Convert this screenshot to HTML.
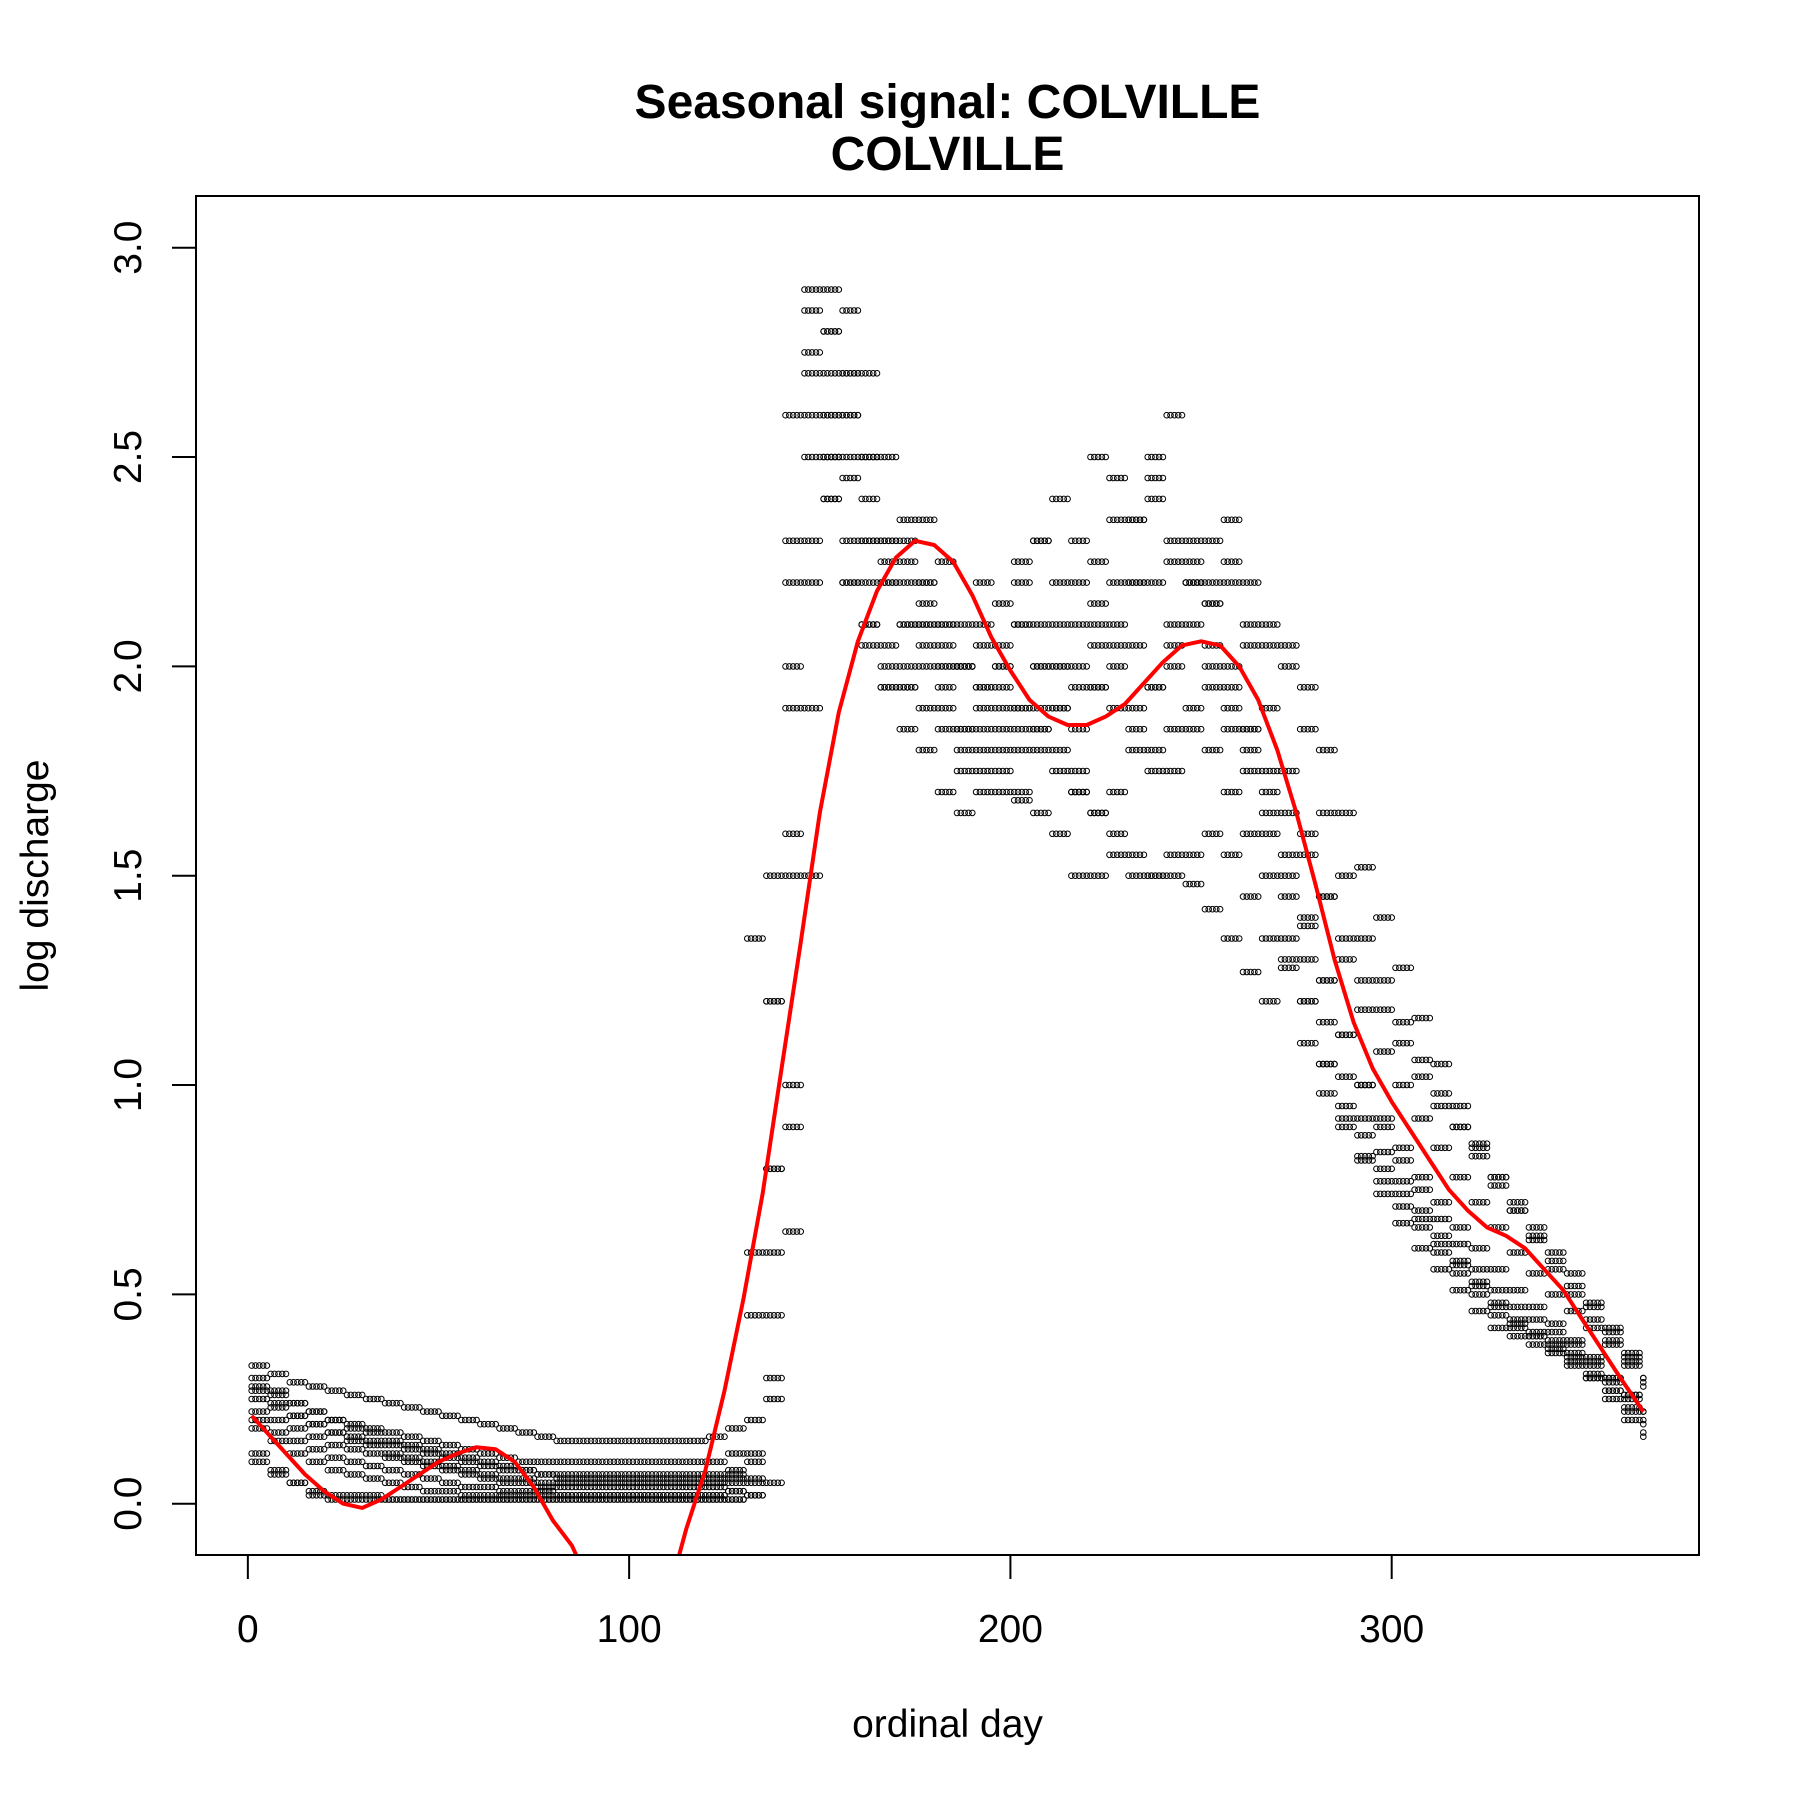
<!DOCTYPE html>
<html><head><meta charset="utf-8"><style>body{margin:0;background:#fff}svg{display:block}</style></head>
<body>
<svg id="chart" width="1800" height="1800" xmlns="http://www.w3.org/2000/svg" font-family="Liberation Sans, Arial, sans-serif">
<defs><clipPath id="plotclip"><rect x="196" y="196" width="1503" height="1359"/></clipPath></defs>
<rect x="0" y="0" width="1800" height="1800" fill="#fff"/>
<text x="947.5" y="118" font-size="48" font-weight="bold" text-anchor="middle">Seasonal signal: COLVILLE</text>
<text x="947.5" y="170" font-size="48" font-weight="bold" text-anchor="middle">COLVILLE</text>
<rect x="196" y="196" width="1503" height="1359" fill="none" stroke="#000" stroke-width="2"/>
<g id="points" clip-path="url(#plotclip)"></g>
<g id="fit" clip-path="url(#plotclip)"></g>
<g id="axes"></g>
<text x="947.5" y="1737" font-size="39" text-anchor="middle">ordinal day</text>
<text transform="translate(48,875.5) rotate(-90)" font-size="39" text-anchor="middle">log discharge</text>
</svg>
<script>
const xTicks = [0, 100, 200, 300];
const xTickLabels = ["0", "100", "200", "300"];
const yTicks = [0, 0.5, 1, 1.5, 2, 2.5, 3];
const yTickLabels = ["0.0", "0.5", "1.0", "1.5", "2.0", "2.5", "3.0"];
const dayStep = 5;
const seriesA = [0.33,0.31,0.29,0.28,0.27,0.26,0.25,0.24,0.23,0.22,0.21,0.20,0.19,0.18,0.17,0.16,0.15,0.15,0.15,0.15,0.15,0.15,0.15,0.15,0.16,0.18,0.45,1.2,2.6,2.9,2.8,2.6,2.5,2.3,2.2,2.1,2.0,2.1,2.2,2.0,2.1,2.3,2.4,2.2,2.1,2.0,2.2,2.4,2.3,2.2,2.0,1.9,1.85,1.75,1.65,1.55,1.45,1.35,1.25,1.18,1.1,1.02,0.95,0.9,0.85,0.78,0.72,0.66,0.6,0.55,0.48,0.42,0.36,0.3];
const seriesB = [0.27,0.24,0.21,0.19,0.17,0.15,0.14,0.12,0.11,0.10,0.09,0.08,0.07,0.06,0.06,0.05,0.05,0.05,0.05,0.05,0.05,0.05,0.05,0.05,0.05,0.06,0.2,0.8,1.9,2.7,2.5,2.3,2.1,2.0,1.95,2.05,1.9,1.8,1.75,1.7,1.68,1.85,1.9,1.7,1.65,1.7,1.8,1.75,1.85,1.9,1.8,1.7,1.6,1.5,1.35,1.2,1.05,0.95,0.88,0.8,0.74,0.68,0.62,0.57,0.52,0.47,0.44,0.41,0.39,0.36,0.33,0.29,0.25,0.2];
const seriesC = [0.12,0.08,0.05,0.02,0.01,0.01,0.01,0.01,0.01,0.01,0.01,0.01,0.01,0.01,0.01,0.01,0.01,0.01,0.01,0.01,0.01,0.01,0.01,0.01,0.01,0.01,0.02,0.05,0.9,1.9,2.6,2.7,2.5,2.3,2.1,2.0,1.95,1.85,1.8,1.75,1.7,1.65,1.6,1.5,1.5,1.55,1.5,1.5,1.55,1.48,1.42,1.35,1.27,1.2,1.28,1.1,0.98,0.9,0.83,0.77,0.71,0.66,0.6,0.55,0.5,0.45,0.42,0.4,0.38,0.35,0.3,0.25,0.2,0.16];
const seriesD = [0.22,0.2,0.18,0.16,0.14,0.13,0.12,0.11,0.1,0.09,0.08,0.07,0.06,0.05,0.05,0.04,0.04,0.04,0.04,0.04,0.04,0.04,0.04,0.04,0.04,0.05,0.1,0.3,1.0,2.2,2.4,2.7,2.3,2.2,2.3,2.2,2.1,2.0,1.9,1.85,1.8,1.9,2.0,2.1,2.05,1.9,1.85,1.95,2.1,2.2,2.15,2.0,1.85,1.7,1.55,1.4,1.25,1.12,1.0,0.92,0.85,0.78,0.72,0.66,0.61,0.56,0.51,0.47,0.43,0.39,0.35,0.3,0.26,0.22];
const seriesE = [0.3,0.27,0.24,0.22,0.2,0.18,0.17,0.15,0.14,0.13,0.12,0.11,0.1,0.09,0.08,0.07,0.07,0.07,0.07,0.07,0.07,0.07,0.07,0.07,0.07,0.08,0.12,0.6,1.5,2.5,2.8,2.6,2.4,2.25,2.1,2.35,2.25,2.0,1.95,2.05,2.2,2.3,2.2,2.0,2.15,2.45,2.35,2.2,2.05,2.25,2.3,2.2,2.05,1.9,1.75,1.6,1.45,1.3,1.18,1.08,1.0,0.92,0.85,0.78,0.72,0.66,0.6,0.55,0.5,0.46,0.42,0.38,0.33,0.28];
const seriesF = [0.2,0.17,0.15,0.13,0.11,0.1,0.09,0.08,0.07,0.06,0.05,0.04,0.04,0.03,0.03,0.03,0.02,0.02,0.02,0.02,0.02,0.02,0.02,0.02,0.02,0.03,0.05,0.25,1.6,2.3,2.5,2.2,2.1,1.95,1.85,1.8,1.7,1.65,1.85,1.9,1.85,1.8,1.75,1.7,1.65,1.6,1.55,1.5,1.5,1.55,1.6,1.55,1.45,1.35,1.3,1.2,1.05,0.92,0.82,0.74,0.67,0.61,0.56,0.51,0.46,0.42,0.4,0.38,0.36,0.33,0.3,0.27,0.23,0.19];
const seriesG = [0.25,0.23,0.21,0.19,0.17,0.16,0.15,0.14,0.13,0.12,0.11,0.1,0.09,0.08,0.08,0.07,0.06,0.06,0.06,0.06,0.06,0.06,0.06,0.06,0.06,0.07,1.35,1.2,0.65,1.5,2.9,2.85,2.7,2.5,2.35,2.2,2.1,2.0,2.1,1.95,1.9,2.0,2.1,2.3,2.5,2.35,2.2,2.5,2.6,2.3,2.2,2.35,2.2,2.1,2.0,1.85,1.65,1.5,1.35,1.25,1.15,1.06,0.98,0.9,0.83,0.76,0.7,0.64,0.58,0.52,0.47,0.41,0.35,0.3];
const seriesH = [0.18,0.15,0.12,0.1,0.08,0.07,0.06,0.05,0.04,0.03,0.03,0.02,0.02,0.02,0.02,0.02,0.02,0.02,0.02,0.02,0.02,0.02,0.02,0.02,0.02,0.03,0.06,0.45,2.0,2.6,2.4,2.2,2.05,1.95,2.0,2.15,2.0,1.85,1.95,2.0,2.1,2.0,1.9,1.85,1.95,2.1,2.05,1.95,2.0,2.1,2.05,1.95,1.8,1.65,1.5,1.38,1.25,1.12,1.0,0.9,0.82,0.75,0.68,0.62,0.56,0.51,0.47,0.44,0.41,0.38,0.34,0.3,0.26,0.22];
const seriesI = [0.28,0.26,0.24,0.22,0.2,0.19,0.18,0.17,0.16,0.15,0.14,0.13,0.12,0.11,0.1,0.1,0.1,0.1,0.1,0.1,0.1,0.1,0.1,0.1,0.1,0.12,0.6,1.5,2.3,2.75,2.6,2.45,2.3,2.2,2.25,2.1,2.05,2.0,2.05,2.15,2.25,2.1,2.0,1.95,2.25,2.2,2.35,2.45,2.25,2.2,2.15,2.25,2.1,2.05,2.05,1.95,1.8,1.65,1.52,1.4,1.28,1.16,1.05,0.95,0.86,0.78,0.7,0.63,0.56,0.5,0.44,0.39,0.34,0.29];
const seriesJ = [0.1,0.07,0.05,0.03,0.02,0.02,0.02,0.01,0.01,0.01,0.01,0.01,0.01,0.01,0.01,0.01,0.01,0.01,0.01,0.01,0.01,0.01,0.01,0.01,0.01,0.01,0.02,0.8,2.2,2.85,2.7,2.5,2.2,2.05,1.95,1.9,1.85,1.75,1.7,1.8,1.9,1.85,1.8,1.75,1.95,2.05,1.9,1.8,1.75,1.85,1.95,1.85,1.75,1.6,1.45,1.3,1.15,1.02,0.92,0.84,0.77,0.7,0.64,0.58,0.53,0.48,0.43,0.4,0.37,0.34,0.31,0.27,0.22,0.17];
const fitDays = [1,5,10,15,20,25,30,35,40,45,50,55,60,65,70,75,80,85,88,112,115,120,125,130,135,140,145,150,155,160,165,170,175,180,185,190,195,200,205,210,215,220,225,230,235,240,245,250,255,260,265,270,275,280,285,290,295,300,305,310,315,320,325,330,335,340,345,350,355,360,366];
const fitValues = [0.21,0.17,0.12,0.07,0.03,0.0,-0.01,0.01,0.04,0.07,0.1,0.12,0.135,0.13,0.1,0.04,-0.04,-0.1,-0.16,-0.16,-0.06,0.08,0.27,0.49,0.74,1.04,1.34,1.65,1.89,2.06,2.18,2.26,2.3,2.29,2.25,2.17,2.07,1.99,1.92,1.88,1.86,1.86,1.88,1.91,1.96,2.01,2.05,2.06,2.05,2.0,1.92,1.8,1.65,1.48,1.3,1.15,1.04,0.96,0.89,0.82,0.75,0.7,0.66,0.64,0.61,0.56,0.51,0.44,0.37,0.3,0.22];

const NS = "http://www.w3.org/2000/svg";
const xMin = -13.6, xMax = 380.6, yMin = -0.1225, yMax = 3.1235;
const L = 196, R = 1699, T = 196, B = 1555;
function xScale(d){ return L + (d - xMin) / (xMax - xMin) * (R - L); }
function yScale(v){ return B - (v - yMin) / (yMax - yMin) * (B - T); }

const ptsG = document.getElementById('points');
const allSeries = [seriesA, seriesB, seriesC, seriesD, seriesE, seriesF, seriesG, seriesH, seriesI, seriesJ];
allSeries.forEach(function(s){
  s.forEach(function(v, i){
    for (let k = 0; k < dayStep; k++) {
      const day = 1 + dayStep * i + k;
      if (day > 366) break;
      const c = document.createElementNS(NS, 'circle');
      c.setAttribute('cx', xScale(day).toFixed(1));
      c.setAttribute('cy', yScale(v).toFixed(1));
      c.setAttribute('r', '2.8');
      c.setAttribute('fill', 'none');
      c.setAttribute('stroke', '#000');
      c.setAttribute('stroke-width', '1');
      
      
      ptsG.appendChild(c);
    }
  });
});

const fitG = document.getElementById('fit');
let dstr = '';
fitDays.forEach(function(d, i){ dstr += (i ? 'L' : 'M') + xScale(d).toFixed(1) + ',' + yScale(fitValues[i]).toFixed(1); });
const path = document.createElementNS(NS, 'path');
path.setAttribute('d', dstr);
path.setAttribute('fill', 'none');
path.setAttribute('stroke', '#ff0000');
path.setAttribute('stroke-width', '4');
path.setAttribute('stroke-linejoin', 'round');


fitG.appendChild(path);

const ax = document.getElementById('axes');
const xl = document.createElementNS(NS, 'line');
xl.setAttribute('x1', xScale(xTicks[0])); xl.setAttribute('x2', xScale(xTicks[xTicks.length-1]));
xl.setAttribute('y1', 1555); xl.setAttribute('y2', 1555);
xl.setAttribute('stroke', '#000'); xl.setAttribute('stroke-width', '2');


ax.appendChild(xl);
xTicks.forEach(function(t, i){
  const x = xScale(t);
  const ln = document.createElementNS(NS, 'line');
  ln.setAttribute('x1', x); ln.setAttribute('x2', x); ln.setAttribute('y1', 1555); ln.setAttribute('y2', 1579);
  ln.setAttribute('stroke', '#000'); ln.setAttribute('stroke-width', '2');
  
  
  ax.appendChild(ln);
  const tx = document.createElementNS(NS, 'text');
  tx.setAttribute('x', x); tx.setAttribute('y', 1642);
  tx.setAttribute('font-size', '39'); tx.setAttribute('text-anchor', 'middle');
  tx.textContent = xTickLabels[i];
  
  
  ax.appendChild(tx);
});
const yl = document.createElementNS(NS, 'line');
yl.setAttribute('y1', yScale(yTicks[0])); yl.setAttribute('y2', yScale(yTicks[yTicks.length-1]));
yl.setAttribute('x1', 196); yl.setAttribute('x2', 196);
yl.setAttribute('stroke', '#000'); yl.setAttribute('stroke-width', '2');


ax.appendChild(yl);
yTicks.forEach(function(t, i){
  const y = yScale(t);
  const ln = document.createElementNS(NS, 'line');
  ln.setAttribute('x1', 172); ln.setAttribute('x2', 196); ln.setAttribute('y1', y); ln.setAttribute('y2', y);
  ln.setAttribute('stroke', '#000'); ln.setAttribute('stroke-width', '2');
  
  
  ax.appendChild(ln);
  const tx = document.createElementNS(NS, 'text');
  tx.setAttribute('transform', 'translate(141,' + y.toFixed(1) + ') rotate(-90)');
  tx.setAttribute('font-size', '39'); tx.setAttribute('text-anchor', 'middle');
  tx.textContent = yTickLabels[i];
  
  
  ax.appendChild(tx);
});
</script>
</body></html>
